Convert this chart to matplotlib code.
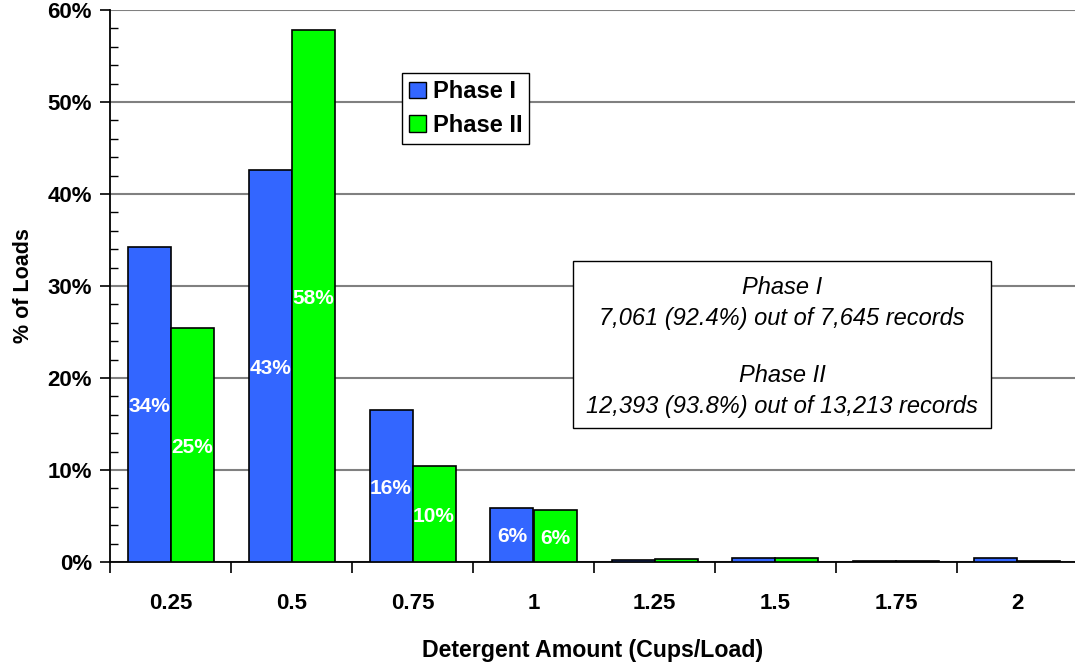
import matplotlib
matplotlib.use("Agg")
import matplotlib.pyplot as plt
from matplotlib.patches import Patch, Rectangle
from matplotlib.ticker import MultipleLocator, FuncFormatter, FixedLocator
import numpy as np

plt.rcParams['font.family'] = ['Liberation Sans', 'DejaVu Sans']

categories = ["0.25", "0.5", "0.75", "1", "1.25", "1.5", "1.75", "2"]
phase1 = [34.2, 42.6, 16.5, 5.9, 0.2, 0.4, 0.15, 0.45]
phase2 = [25.4, 57.8, 10.4, 5.6, 0.3, 0.45, 0.1, 0.1]
series_names = ["Phase I", "Phase II"]
colors = ["#3366FF", "#00FF00"]
note_lines = ["Phase I", "7,061 (92.4%) out of 7,645 records",
              "Phase II", "12,393 (93.8%) out of 13,213 records"]

W, H = 1075, 663
fig = plt.figure(figsize=(W / 100, H / 100), dpi=100)
ax = fig.add_axes([110 / W, 1 - 562 / H, 1 - 110 / W, (562 - 10) / H])

x = np.arange(len(categories))
bw = 43 / 121
b1 = ax.bar(x - bw / 2, phase1, bw, color=colors[0], edgecolor='black', linewidth=1.2, zorder=3)
b2 = ax.bar(x + bw / 2, phase2, bw, color=colors[1], edgecolor='black', linewidth=1.2, zorder=3)

for bars, vals in ((b1, phase1), (b2, phase2)):
    for rect, v in zip(bars, vals):
        if v >= 5:
            ax.text(rect.get_x() + rect.get_width() / 2, v / 2, f"{v:.0f}%",
                    ha='center', va='center_baseline', color='white', fontsize=15,
                    fontweight='bold', zorder=4)

ax.set_xlim(-0.5, 7.5 - 3 / 121)
ax.set_ylim(0, 60)

ax.yaxis.set_major_locator(MultipleLocator(10))
ax.yaxis.set_minor_locator(MultipleLocator(2))
ax.yaxis.set_major_formatter(FuncFormatter(lambda v, p: f"{v:.0f}%"))
ax.tick_params(axis='y', which='major', direction='out', length=7, width=1.2, labelsize=16, pad=6)
ax.tick_params(axis='y', which='minor', direction='in', length=6, width=1.0)
for lab in ax.get_yticklabels():
    lab.set_fontweight('bold')

ax.xaxis.set_major_locator(FixedLocator(np.arange(len(categories) + 1) - 0.5))
ax.xaxis.set_major_formatter(FuncFormatter(lambda v, p: ""))
ax.xaxis.set_minor_locator(FixedLocator(x))
ax.set_xticklabels(categories, minor=True)
ax.tick_params(axis='x', which='major', direction='out', length=8, width=1.2)
ax.tick_params(axis='x', which='minor', length=0, labelsize=16, pad=22)
for lab in ax.get_xticklabels(minor=True):
    lab.set_fontweight('bold')

ax.grid(axis='y', which='major', color='#808080', linewidth=1.5, zorder=0)
ax.set_axisbelow(True)
for s in ['top', 'right']:
    ax.spines[s].set_visible(False)
ax.spines['left'].set_linewidth(1.3)
ax.spines['bottom'].set_linewidth(1.3)

ax.set_xlabel("Detergent Amount (Cups/Load)", fontsize=16.7, fontweight='bold', labelpad=18)
ax.set_ylabel("% of Loads", fontsize=15.5, fontweight='bold', labelpad=10)

handles = [Patch(facecolor=c, edgecolor='black', linewidth=1.0) for c in colors]
leg = fig.legend(handles, series_names, loc='upper left',
                 bbox_to_anchor=(402 / W, 1 - 73 / H), bbox_transform=fig.transFigure,
                 prop={'weight': 'bold', 'size': 17}, frameon=True, fancybox=False,
                 edgecolor='black', framealpha=1, borderpad=0.3, handlelength=0.7,
                 handleheight=0.7, handletextpad=0.3, labelspacing=0.45, borderaxespad=0)
leg.get_frame().set_linewidth(1.0)

# annotation box
fig.patches.append(Rectangle((573 / W, 1 - 428 / H), (991 - 573) / W, (428 - 261) / H,
                             transform=fig.transFigure, facecolor='white',
                             edgecolor='black', linewidth=1.0, zorder=5))
ys = [288, 318, 376, 407]
for t, yy in zip(note_lines, ys):
    fig.text(782 / W, 1 - yy / H, t, ha='center', va='center', fontsize=17,
             style='italic', zorder=6)

fig.savefig("out.png", dpi=100)
